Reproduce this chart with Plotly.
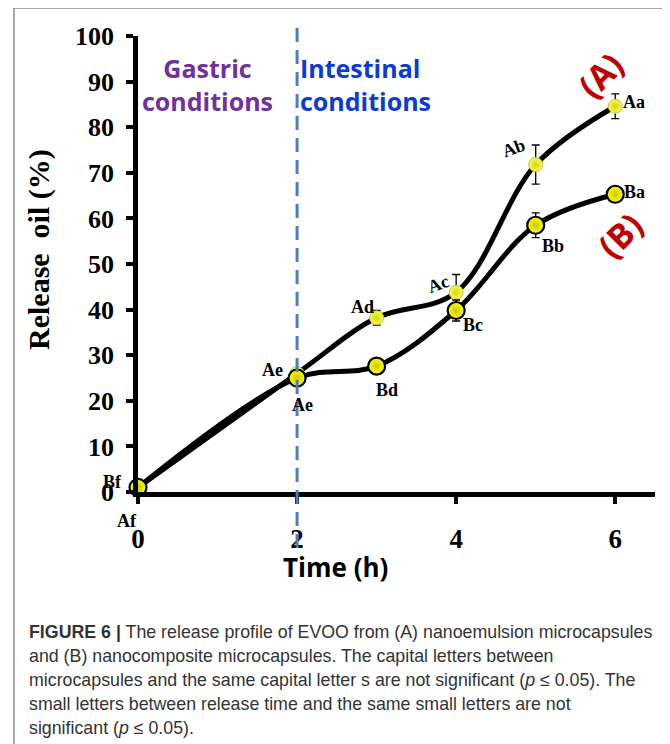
import plotly.graph_objects as go

# ---- data ----
time_h = [0, 2, 3, 4, 5, 6]
release_A = [1.0, 26.0, 38.2, 43.8, 71.8, 84.6]
release_B = [1.0, 25.0, 27.6, 39.8, 58.5, 65.3]
err_A = [0.0, 1.0, 1.6, 3.9, 4.3, 2.7]
err_B = [0.0, 1.8, 0.5, 2.3, 2.7, 0.5]
labels_A = ["Af", "Ae", "Ad", "Ac", "Ab", "Aa"]
labels_B = ["Bf", "Ae", "Bd", "Bc", "Bb", "Ba"]
y_ticks = [0, 10, 20, 30, 40, 50, 60, 70, 80, 90, 100]
x_ticks = [0, 2, 4, 6]

# ---- layout geometry (page has an 8px body margin) ----
OFF = 8
W, H = 670 - OFF, 744 - OFF
ML, MT = 138 - OFF, 36 - OFF
PLOT_R, PLOT_B = 655 - OFF, 492 - OFF
MR, MB = W - PLOT_R, H - PLOT_B
PW = PLOT_R - ML
PH = PLOT_B - MT

def px_x(px):
    return (px - OFF - ML) / PW

def px_y(py):
    return (PLOT_B - (py - OFF)) / PH

SERIF = "Liberation Serif"
SANS = "Open Sans"

fig = go.Figure()

# lines
for ys in (release_A, release_B):
    fig.add_trace(go.Scatter(
        x=time_h, y=ys, mode="lines",
        line=dict(color="black", width=5, shape="spline", smoothing=1.0),
        hoverinfo="skip", showlegend=False, cliponaxis=False))

# markers A
fig.add_trace(go.Scatter(
    x=time_h, y=release_A, mode="markers",
    marker=dict(size=14, color="#FFFF30",
                gradient=dict(type="radial", color="#CBD435"),
                line=dict(color="#B9C060", width=1)),
    error_y=dict(type="data", array=err_A, visible=True, color="black",
                 thickness=1.3, width=4),
    showlegend=False, cliponaxis=False))

# markers B
fig.add_trace(go.Scatter(
    x=time_h, y=release_B, mode="markers",
    marker=dict(size=17, color="#FFFF10",
                gradient=dict(type="radial", color="#C8C800"),
                line=dict(color="black", width=2.2)),
    error_y=dict(type="data", array=err_B, visible=True, color="black",
                 thickness=1.3, width=4),
    showlegend=False, cliponaxis=False))

ann = []
# point letter labels (pixel offsets from their markers)
offs_A = [(-11, -34, 0), (-25, 3, 0), (-14, 11, 0), (-18, 8, -20), (-22, 17, -20), (19, 4, 0)]
offs_B = [(-26, 5, 0), (5, -27, 0), (10, -24, 0), (17, -14, 0), (17, -21, 0), (19, 2, 0)]
for xs, ys, labs, offs in ((time_h, release_A, labels_A, offs_A),
                           (time_h, release_B, labels_B, offs_B)):
    for xv, yv, lab, (dx, dy, rot) in zip(xs, ys, labs, offs):
        ann.append(dict(x=xv, y=yv, xref="x", yref="y", text=lab,
                        xanchor="center", yanchor="middle",
                        showarrow=False, xshift=dx, yshift=dy, textangle=rot,
                        font=dict(family=SERIF, size=18, color="black", weight="bold")))

# series tags
ann.append(dict(x=5.81, y=91.5, xref="x", yref="y", text="(A)", showarrow=False,
                xanchor="center", yanchor="middle", textangle=-45,
                font=dict(family=SANS, size=34, color="#C00000", weight="bold")))
ann.append(dict(x=6.06, y=56.4, xref="x", yref="y", text="(B)", showarrow=False,
                xanchor="center", yanchor="middle", textangle=-45,
                font=dict(family=SANS, size=34, color="#C00000", weight="bold")))

# condition labels
ann.append(dict(x=px_x(207), y=px_y(84), xref="paper", yref="paper",
                xanchor="center", yanchor="middle",
                text="Gastric<br>conditions", showarrow=False, align="center",
                font=dict(family=SANS, size=25, color="#7030A0", weight="bold")))
ann.append(dict(x=px_x(298), y=px_y(85), xref="paper", yref="paper",
                xanchor="left", yanchor="middle",
                text="Intestinal<br>conditions", showarrow=False, align="left",
                font=dict(family=SANS, size=25, color="#0B3BD3", weight="bold")))

# axis titles
ann.append(dict(x=px_x(335), y=px_y(567), xref="paper", yref="paper",
                xanchor="center", yanchor="middle",
                text="Time (h)", showarrow=False,
                font=dict(family=SANS, size=26, color="black", weight="bold")))
ann.append(dict(x=px_x(39), y=px_y(250), xref="paper", yref="paper",
                xanchor="center", yanchor="middle",
                text="Release  oil (%)", showarrow=False, textangle=-90,
                font=dict(family=SERIF, size=30, color="black", weight="bold")))

# caption
caption = [
    "<b>FIGURE 6 |</b> The release profile of EVOO from (A) nanoemulsion microcapsules",
    "and (B) nanocomposite microcapsules. The capital letters between",
    "microcapsules and the same capital letter s are not significant (<i>p</i> \u2264 0.05). The",
    "small letters between release time and the same small letters are not",
    "significant (<i>p</i> \u2264 0.05).",
]
for i, line in enumerate(caption):
    ann.append(dict(x=px_x(27), y=px_y(632 + 24 * i), xref="paper", yref="paper",
                    xanchor="left", yanchor="middle", text=line, showarrow=False,
                    font=dict(family="Liberation Sans", size=17.8, color="#333333")))

FRAME = dict(color="#8a8a8a", width=1.5)
shapes = [
    # dashed divider at t = 2 h
    dict(type="line", xref="x", yref="paper", x0=2, x1=2, y0=px_y(548), y1=px_y(25),
         line=dict(color="#4A7EBB", width=3, dash="14px,8px")),
    # frame
    dict(type="line", xref="paper", yref="paper", x0=px_x(14), x1=px_x(14),
         y0=px_y(8), y1=px_y(760), line=FRAME),
    dict(type="line", xref="paper", yref="paper", x0=px_x(667), x1=px_x(667),
         y0=px_y(8), y1=px_y(760), line=FRAME),
    dict(type="line", xref="paper", yref="paper", x0=px_x(14), x1=px_x(667),
         y0=px_y(8), y1=px_y(8), line=FRAME),
]

fig.update_layout(
    width=W, height=H,
    margin=dict(l=ML, r=MR, t=MT, b=MB, pad=0),
    paper_bgcolor="white", plot_bgcolor="white",
    showlegend=False,
    annotations=ann, shapes=shapes,
    xaxis=dict(range=[0, 6.5], tickvals=x_ticks, ticktext=[str(v) for v in x_ticks],
               showline=True, linecolor="black", linewidth=4.5,
               ticks="outside", ticklen=7, tickwidth=4, tickcolor="black",
               showgrid=False, zeroline=False, ticklabelstandoff=12,
               tickfont=dict(family=SERIF, size=27, color="black", weight="bold")),
    yaxis=dict(range=[0, 100], tickvals=y_ticks, ticktext=[str(v) for v in y_ticks],
               showline=True, linecolor="black", linewidth=4.5,
               ticks="outside", ticklen=7, tickwidth=4, tickcolor="black",
               showgrid=False, zeroline=False, ticklabelstandoff=7,
               tickfont=dict(family=SERIF, size=26, color="black", weight="bold")),
)

fig.write_html("out.html")
